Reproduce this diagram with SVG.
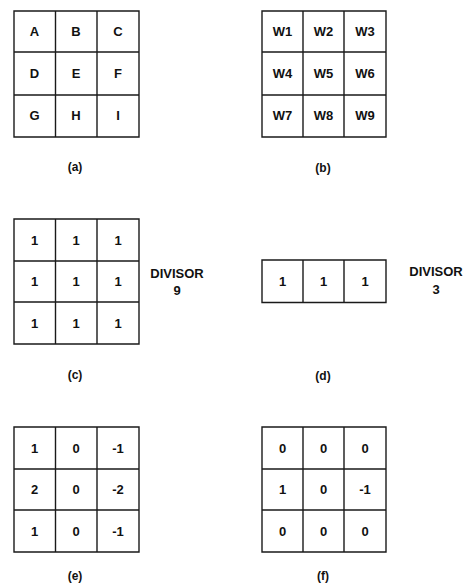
<svg xmlns="http://www.w3.org/2000/svg" width="466" height="584" viewBox="0 0 466 584">
<style>
.g{fill:none;stroke:#1a1a1a;stroke-width:1.4}
.t{font-family:"Liberation Sans",Arial,sans-serif;font-weight:bold;font-size:13px;fill:#111;text-anchor:middle}
.l{font-family:"Liberation Sans",Arial,sans-serif;font-weight:bold;font-size:12px;fill:#111;text-anchor:middle}
</style>
<rect width="466" height="584" fill="#fff"/>
<g id="grid-a">
<path class="g" d="M14 11H139V137H14Z M55.5 11V137 M97 11V137 M14 52H139 M14 95H139"/>
<text class="t" x="34.5" y="36">A</text><text class="t" x="76" y="36">B</text><text class="t" x="118" y="36">C</text>
<text class="t" x="34.5" y="78">D</text><text class="t" x="76" y="78">E</text><text class="t" x="118" y="78">F</text>
<text class="t" x="34.5" y="120">G</text><text class="t" x="76" y="120">H</text><text class="t" x="118" y="120">I</text>
<text class="l" x="75" y="171">(a)</text>
</g>
<g id="grid-b">
<path class="g" d="M262 11H386V137H262Z M303 11V137 M344 11V137 M262 52H386 M262 95H386"/>
<text class="t" x="282.5" y="36">W1</text><text class="t" x="323.5" y="36">W2</text><text class="t" x="365" y="36">W3</text>
<text class="t" x="282.5" y="78">W4</text><text class="t" x="323.5" y="78">W5</text><text class="t" x="365" y="78">W6</text>
<text class="t" x="282.5" y="120">W7</text><text class="t" x="323.5" y="120">W8</text><text class="t" x="365" y="120">W9</text>
<text class="l" x="323" y="172">(b)</text>
</g>
<g id="grid-c">
<path class="g" d="M14 219H139V344H14Z M55.5 219V344 M97 219V344 M14 261H139 M14 302H139"/>
<text class="t" x="34.5" y="244.5">1</text><text class="t" x="76" y="244.5">1</text><text class="t" x="118" y="244.5">1</text>
<text class="t" x="34.5" y="286">1</text><text class="t" x="76" y="286">1</text><text class="t" x="118" y="286">1</text>
<text class="t" x="34.5" y="327.5">1</text><text class="t" x="76" y="327.5">1</text><text class="t" x="118" y="327.5">1</text>
<text class="t" x="177" y="277.5">DIVISOR</text><text class="t" x="177" y="294.5">9</text>
<text class="l" x="75" y="379">(c)</text>
</g>
<g id="grid-d">
<path class="g" d="M262 260H386V302.5H262Z M303 260V302.5 M344 260V302.5"/>
<text class="t" x="282.5" y="286">1</text><text class="t" x="323.5" y="286">1</text><text class="t" x="365" y="286">1</text>
<text class="t" x="436" y="276">DIVISOR</text><text class="t" x="436" y="294">3</text>
<text class="l" x="323" y="380">(d)</text>
</g>
<g id="grid-e">
<path class="g" d="M14 427H139V552H14Z M55.5 427V552 M97 427V552 M14 469H139 M14 510H139"/>
<text class="t" x="34.5" y="452.5">1</text><text class="t" x="76" y="452.5">0</text><text class="t" x="118" y="452.5">-1</text>
<text class="t" x="34.5" y="494">2</text><text class="t" x="76" y="494">0</text><text class="t" x="118" y="494">-2</text>
<text class="t" x="34.5" y="535.5">1</text><text class="t" x="76" y="535.5">0</text><text class="t" x="118" y="535.5">-1</text>
<text class="l" x="75" y="580">(e)</text>
</g>
<g id="grid-f">
<path class="g" d="M262 427H386V552H262Z M303 427V552 M344 427V552 M262 469H386 M262 510H386"/>
<text class="t" x="282.5" y="452.5">0</text><text class="t" x="323.5" y="452.5">0</text><text class="t" x="365" y="452.5">0</text>
<text class="t" x="282.5" y="494">1</text><text class="t" x="323.5" y="494">0</text><text class="t" x="365" y="494">-1</text>
<text class="t" x="282.5" y="535.5">0</text><text class="t" x="323.5" y="535.5">0</text><text class="t" x="365" y="535.5">0</text>
<text class="l" x="323" y="580">(f)</text>
</g>
<g id="connectors"></g>
</svg>
